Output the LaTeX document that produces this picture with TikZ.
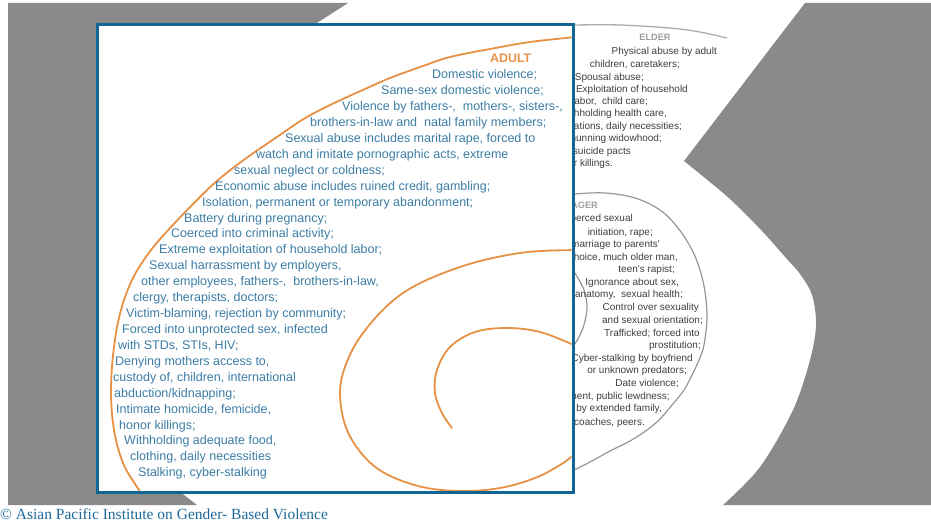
\documentclass[tikz,border=0pt]{standalone}
\usepackage{fontspec}
\setmainfont{Liberation Serif}
\newfontfamily\lsans{Liberation Sans}
\definecolor{bggray}{RGB}{138,138,138}
\definecolor{boxblue}{RGB}{18,102,150}
\definecolor{capblue}{RGB}{30,105,155}
\definecolor{adultblue}{RGB}{60,125,165}
\definecolor{spiralorange}{RGB}{230,145,68}
\definecolor{adultorange}{RGB}{232,146,72}
\definecolor{txtgray}{RGB}{62,62,62}
\definecolor{titlegray}{RGB}{158,158,158}
\definecolor{linegray}{RGB}{150,150,150}
\tikzset{
  atxt/.style={anchor=base west, inner sep=0pt, text=adultblue, font=\lsans\fontsize{12.5}{15}\selectfont},
  gtxt/.style={anchor=base east, inner sep=0pt, text=txtgray, font=\lsans\fontsize{10}{12}\selectfont},
  gtitle/.style={inner sep=0pt, text=titlegray, font=\lsans\bfseries\fontsize{9.2}{11}\selectfont},
  spiral/.style={draw=spiralorange, line width=1.8pt, line cap=round},
  grayline/.style={draw=linegray, line width=1.2pt},
  frame/.style={draw=boxblue, line width=3pt},
}
\begin{document}
\begin{tikzpicture}[x=1pt,y=-1pt]
\useasboundingbox (0,0) rectangle (931,527);
% background grey shapes
\fill[bggray] (8,3) -- (348,3) -- (300,34) -- (170,484) -- (197,505) -- (8,505) -- cycle;
\fill[bggray] (805,3) -- (931,3) -- (931,505) -- plot[smooth, tension=0.55] coordinates {(723,505) (760,467) (793,410) (810,360) (816,325) (812,295) (800,274) (786,258) (762,231) (731,200) (705,178) (684,161)} -- cycle;
% elder / teenager zone lines
\draw[draw=linegray!80, line width=1.3pt] plot[smooth] coordinates {(560,26) (574,25) (620,25) (670,28) (700,32) (727,38)};
\draw[grayline] plot[smooth, tension=0.6] coordinates {(560,196) (574,194) (605,193) (635,198) (660,210) (678,228) (692,250) (700,270) (705,292) (707,318) (704,345) (699,360) (692,375) (684,390) (672,405) (660,419) (647,430) (630,441) (610,451) (590,462) (574,470) (560,476)};
\draw[grayline] plot[smooth] coordinates {(565,266) (574,272) (584,290) (587,308) (583,328) (574,345) (565,350)};
% elder text
\node[gtitle] (eT) at (655,37) {ELDER};
\node[gtxt] (e1) at (717,54.5) {Physical abuse by adult};
\node[gtxt] (e2) at (680,67.5) {children, caretakers;};
\node[gtxt] (e3) at (644,80.5) {Spousal abuse;};
\node[gtxt] (e4) at (688,92.5) {Exploitation of household};
\node[gtxt] (e5) at (648,104.5) {labor,\ \ child care;};
\node[gtxt] (e6) at (667,116.5) {Withholding health care,};
\node[gtxt] (e7) at (682,129.5) {medications, daily necessities;};
\node[gtxt] (e8) at (662,141.5) {Shunning widowhood;};
\node[gtxt] (e9) at (631,154.5) {Forced suicide pacts};
\node[gtxt] (e10) at (613,166.5) {honor killings.};
% teenager text
\node[gtitle, anchor=base east] (tT) at (598,208.5) {TEENAGER};
\node[gtxt] (t1) at (633,221.5) {Coerced sexual};
\node[gtxt] (t2) at (653,235.5) {initiation, rape;};
\node[gtxt] (t3) at (660,247.5) {Forced marriage to parents'};
\node[gtxt] (t4) at (678,260.5) {choice, much older man,};
\node[gtxt] (t5) at (675,272.5) {teen's rapist;};
\node[gtxt] (t6) at (679,285.5) {Ignorance about sex,};
\node[gtxt] (t7) at (683,297.5) {anatomy,\ \ sexual health;};
\node[gtxt] (t8) at (699,310.5) {Control over sexuality};
\node[gtxt] (t9) at (703,323.5) {and sexual orientation;};
\node[gtxt] (t10) at (700,336.5) {Trafficked; forced into};
\node[gtxt] (t11) at (701,348.5) {prostitution;};
\node[gtxt] (t12) at (693,361.5) {Cyber-stalking by boyfriend};
\node[gtxt] (t13) at (687,373.5) {or unknown predators;};
\node[gtxt] (t14) at (679,386.5) {Date violence;};
\node[gtxt] (t15) at (670,399.5) {Sexual harassment, public lewdness;};
\node[gtxt] (t16) at (662,411.5) {Sexual abuse by extended family,};
\node[gtxt] (t17) at (645,425.5) {teachers, coaches, peers.};
% adult box
\fill[white] (97,25) rectangle (573,492);
\begin{scope}
\clip (98.5,26.5) rectangle (571.5,490.5);
\draw[spiral] plot[smooth, tension=0.6] coordinates {(600,33) (574,37) (530,42) (490,49) (450,57) (423,66) (390,78) (365,89) (345,98) (322,109) (302,120) (274,139) (245,159) (218,180) (195,202) (172,226) (151,250) (133,278) (121,310) (114,347) (111,390) (114,430) (123,463) (137,487) (147,502)};
\draw[spiral] plot[smooth, tension=0.6] coordinates {(600,250) (574,250) (520,253) (460,267) (403,293) (363,333) (343,373) (341,407) (352,440) (378,469) (418,486) (460,491) (500,488) (535,478) (560,465) (574,455) (595,440)};
\draw[spiral] plot[smooth, tension=0.6] coordinates {(600,356) (574,345) (540,332) (507,328) (475,332) (450,347) (437,370) (435,393) (442,413) (452,428)};
\end{scope}
\draw[frame] (97,25) rectangle (573,492);
% adult text
\node[anchor=base west, inner sep=0pt, text=adultorange, font=\lsans\bfseries\fontsize{12.4}{15}\selectfont] (aT) at (490,62.5) {ADULT};
\node[atxt] (a1) at (432,78.5) {Domestic violence;};
\node[atxt] (a2) at (381,94.5) {Same-sex domestic violence;};
\node[atxt] (a3) at (342,110.5) {Violence by fathers-,\ \ mothers-, sisters-,};
\node[atxt] (a4) at (310,126.5) {brothers-in-law and\ \ natal family members;};
\node[atxt] (a5) at (285,142.5) {Sexual abuse includes marital rape, forced to};
\node[atxt] (a6) at (256,158.5) {watch and imitate pornographic acts, extreme};
\node[atxt] (a7) at (234,174.5) {sexual neglect or coldness;};
\node[atxt] (a8) at (215,190.5) {Economic abuse includes ruined credit, gambling;};
\node[atxt] (a9) at (202,206.5) {Isolation, permanent or temporary abandonment;};
\node[atxt] (a10) at (184,222) {Battery during pregnancy;};
\node[atxt] (a11) at (171,237.5) {Coerced into criminal activity;};
\node[atxt] (a12) at (159,253.5) {Extreme exploitation of household labor;};
\node[atxt] (a13) at (149,269.5) {Sexual harrassment by employers,};
\node[atxt] (a14) at (141,285.5) {other employees, fathers-,\ \ brothers-in-law,};
\node[atxt] (a15) at (133,301.5) {clergy, therapists, doctors;};
\node[atxt] (a16) at (126,317.5) {Victim-blaming, rejection by community;};
\node[atxt] (a17) at (122,333.5) {Forced into unprotected sex, infected};
\node[atxt] (a18) at (118,349.5) {with STDs, STIs, HIV;};
\node[atxt] (a19) at (115,365.5) {Denying mothers access to,};
\node[atxt] (a20) at (113,381.5) {custody of, children, international};
\node[atxt] (a21) at (114,397.5) {abduction/kidnapping;};
\node[atxt] (a22) at (116,413.5) {Intimate homicide, femicide,};
\node[atxt] (a23) at (119,429.5) {honor killings;};
\node[atxt] (a24) at (124,444.5) {Withholding adequate food,};
\node[atxt] (a25) at (130,460.5) {clothing, daily necessities};
\node[atxt] (a26) at (138,476) {Stalking, cyber-stalking};
% caption
\node[anchor=base west, inner sep=0pt, text=capblue, font=\fontsize{15.5}{18}\selectfont] (cap) at (0,519) {© Asian Pacific Institute on Gender- Based Violence};
\end{tikzpicture}
\end{document}
